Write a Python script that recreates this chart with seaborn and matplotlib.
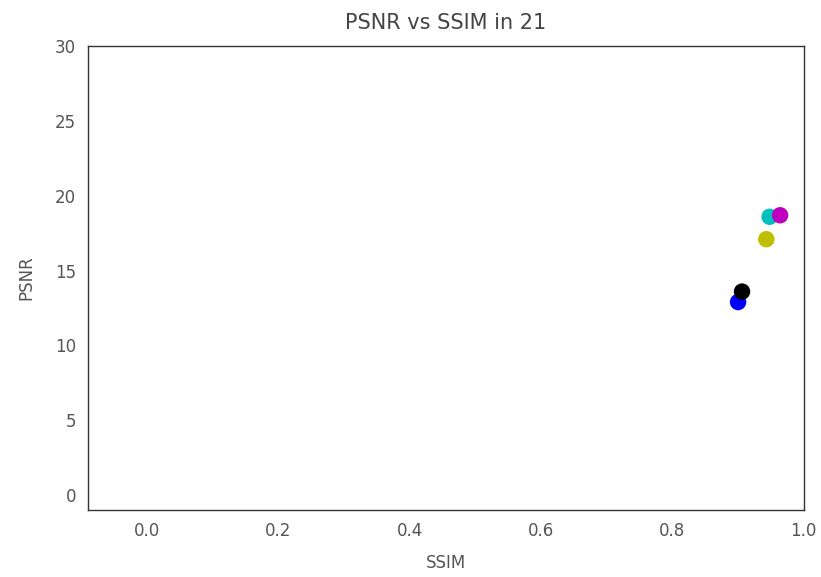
import matplotlib
matplotlib.use("Agg")
import matplotlib.pyplot as plt
import seaborn as sns
import pandas as pd

methods = ["m1", "m2", "m3", "m4", "m5"]
ssim = [0.900, 0.906, 0.943, 0.948, 0.964]
psnr = [12.9, 13.6, 17.1, 18.6, 18.7]
colors = ["#0000ff", "#000000", "#bfbf00", "#00bfbf", "#bf00bf"]

sns.set_style("white")
plt.rcParams['font.family'] = ['DejaVu Sans']

df = pd.DataFrame({"method": methods, "SSIM": ssim, "PSNR": psnr})

fig = plt.figure(figsize=(8.21, 5.77), dpi=100)
ax = fig.add_axes([0.107, 0.116, 0.872, 0.804])
sns.scatterplot(data=df, x="SSIM", y="PSNR", hue="method", palette=colors,
                s=140, edgecolor="none", legend=False, ax=ax)
ax.set_xlim(-0.09, 1.0)
ax.set_ylim(-1, 30)
ax.set_xticks([0.0, 0.2, 0.4, 0.6, 0.8, 1.0])
ax.set_yticks([0, 5, 10, 15, 20, 25, 30])
ax.tick_params(axis="both", direction="out", length=5, width=1, colors="#555555",
               labelsize=12, labelcolor="#555555")
for s in ax.spines.values():
    s.set_color("#333333")
    s.set_linewidth(1)
ax.set_xlabel("SSIM", fontsize=12, color="#555555", labelpad=10)
ax.set_ylabel("PSNR", fontsize=12, color="#555555", labelpad=14)
ax.set_title("PSNR vs SSIM in 21", fontsize=15, color="#444444", pad=12)
fig.savefig("out.png", dpi=100)
